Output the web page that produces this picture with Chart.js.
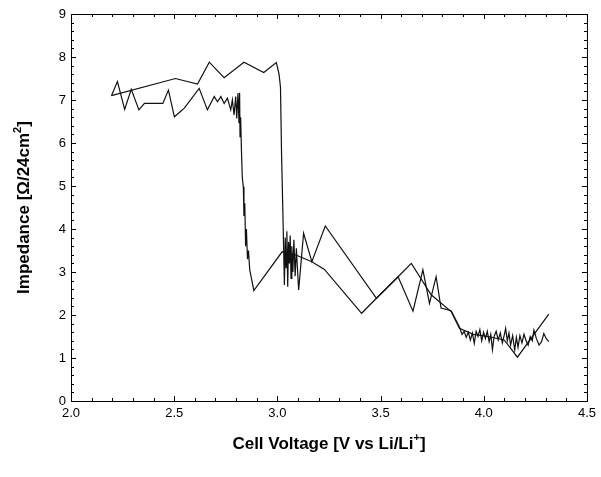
<!DOCTYPE html>
<html>
<head>
<meta charset="utf-8">
<script src="https://cdn.jsdelivr.net/npm/chart.js@4.4.1/dist/chart.umd.min.js"></script>
<style>
  html, body { margin: 0; padding: 0; background: #fff; }
  #wrap { width: 601px; height: 477px; }
</style>
</head>
<body>
<div id="wrap"><canvas id="chart" width="601" height="477"></canvas></div>
<script>
// impedance vs cell voltage, two sweeps
const xTicks = [2.0, 2.5, 3.0, 3.5, 4.0, 4.5];
const yTicks = [0, 1, 2, 3, 4, 5, 6, 7, 8, 9];

// sweep with the noisy plateau
const voltageA = [
  2.196, 2.225, 2.260, 2.292, 2.329, 2.356, 2.445, 2.472, 2.501, 2.549,
  2.621, 2.661, 2.694, 2.710, 2.726, 2.742, 2.758, 2.774, 2.782, 2.790,
  2.798, 2.803, 2.809, 2.814, 2.817, 2.819, 2.822, 2.826, 2.830, 2.835,
  2.838, 2.842, 2.846, 2.850, 2.855, 2.860, 2.866, 2.886, 3.023, 3.087,
  3.167, 3.228, 3.408, 3.480, 3.585, 3.657, 3.705, 3.737, 3.769, 3.793,
  3.842, 3.882, 3.895, 3.905, 3.915, 3.925, 3.935, 3.945, 3.954, 3.963,
  3.972, 3.981, 3.990, 3.999, 4.008, 4.017, 4.026, 4.034, 4.042, 4.050,
  4.060, 4.070, 4.080, 4.090, 4.100, 4.106, 4.114, 4.122, 4.130, 4.140,
  4.150, 4.158, 4.166, 4.175, 4.185, 4.195, 4.205, 4.215, 4.225, 4.235,
  4.243, 4.255, 4.268, 4.280, 4.291, 4.303, 4.315
];
const impedanceA = [
  7.10, 7.43, 6.78, 7.25, 6.77, 6.92, 6.92, 7.23, 6.61, 6.81,
  7.27, 6.77, 7.08, 6.96, 7.08, 6.92, 7.04, 6.77, 7.00, 6.65,
  7.08, 6.57, 7.16, 6.46, 7.17, 6.15, 6.60, 5.80, 5.20, 4.98,
  4.30, 4.60, 3.60, 4.00, 3.30, 3.50, 3.05, 2.57, 3.47, 3.40,
  3.24, 3.06, 2.04, 2.39, 2.89, 2.09, 3.05, 2.27, 2.89, 2.16,
  2.10, 1.72, 1.55, 1.62, 1.48, 1.60, 1.42, 1.58, 1.34, 1.62,
  1.50, 1.66, 1.40, 1.60, 1.45, 1.62, 1.38, 1.55, 1.19, 1.50,
  1.62, 1.42, 1.58, 1.35, 1.55, 1.69, 1.40, 1.58, 1.30, 1.52,
  1.19, 1.48, 1.25, 1.52, 1.35, 1.55, 1.40, 1.30, 1.50, 1.40,
  1.65, 1.45, 1.30, 1.38, 1.57, 1.45, 1.38
];

// sweep with the high plateau
const voltageB = [
  2.196, 2.506, 2.613, 2.670, 2.742, 2.838, 2.934, 2.995, 3.008, 3.015,
  3.020, 3.027, 3.030, 3.034, 3.038, 3.042, 3.046, 3.050, 3.054, 3.058,
  3.062, 3.066, 3.070, 3.075, 3.080, 3.086, 3.092, 3.098, 3.103, 3.127,
  3.167, 3.232, 3.480, 3.585, 3.649, 3.745, 3.842, 3.882, 3.950, 4.020,
  4.099, 4.163, 4.315
];
const impedanceB = [
  7.10, 7.50, 7.37, 7.88, 7.52, 7.88, 7.64, 7.87, 7.60, 7.30,
  5.80, 4.30, 3.60, 2.70, 3.80, 3.10, 3.95, 2.66, 3.70, 3.20,
  3.85, 2.85, 3.60, 3.00, 3.75, 2.90, 3.55, 3.01, 2.58, 3.90,
  3.24, 4.07, 2.39, 2.89, 3.20, 2.47, 2.08, 1.69, 1.55, 1.50,
  1.42, 1.02, 2.02
];

const toPoints = (xs, ys) => xs.map((x, i) => ({ x: x, y: ys[i] }));

// box frame, inward ticks on all four sides, and the axis titles
const framePlugin = {
  id: 'frame',
  afterDraw(chart) {
    const { ctx, chartArea: a, scales } = chart;
    const sx = scales.x, sy = scales.y;
    ctx.save();
    ctx.strokeStyle = '#000';
    ctx.lineWidth = 1;
    ctx.strokeRect(a.left + 0.5, a.top + 0.5, a.right - a.left, a.bottom - a.top);

    ctx.beginPath();
    for (let i = 0; i <= 25; i++) {
      const v = 2 + i * 0.1;
      const px = Math.round(sx.getPixelForValue(v)) + 0.5;
      const len = i % 5 === 0 ? 5 : 3;
      ctx.moveTo(px, a.bottom); ctx.lineTo(px, a.bottom - len);
      ctx.moveTo(px, a.top); ctx.lineTo(px, a.top + len);
    }
    for (let i = 0; i <= 45; i++) {
      const v = i * 0.2;
      const py = Math.round(sy.getPixelForValue(v)) + 0.5;
      const len = i % 5 === 0 ? 5 : 3;
      ctx.moveTo(a.left, py); ctx.lineTo(a.left + len, py);
      ctx.moveTo(a.right, py); ctx.lineTo(a.right - len, py);
    }
    ctx.stroke();

    ctx.fillStyle = '#000';
    ctx.textBaseline = 'alphabetic';
    const big = 'bold 17px "Liberation Sans", Arial, sans-serif';
    const small = 'bold 11px "Liberation Sans", Arial, sans-serif';

    // x title with superscript plus
    const xa = 'Cell Voltage [V vs Li/Li', xs = '+', xb = ']';
    ctx.font = big;
    const wa = ctx.measureText(xa).width, wb = ctx.measureText(xb).width;
    ctx.font = small;
    const ws = ctx.measureText(xs).width;
    let x0 = (a.left + a.right) / 2 - (wa + ws + wb) / 2;
    const yb = 449;
    ctx.font = big; ctx.fillText(xa, x0, yb);
    ctx.font = small; ctx.fillText(xs, x0 + wa, yb - 8);
    ctx.font = big; ctx.fillText(xb, x0 + wa + ws, yb);

    // y title, rotated, with superscript 2
    const ya = 'Impedance [\u03A9/24cm', ys = '2', yb2 = ']';
    ctx.translate(29, (a.top + a.bottom) / 2);
    ctx.rotate(-Math.PI / 2);
    ctx.font = big;
    const ha = ctx.measureText(ya).width, hb = ctx.measureText(yb2).width;
    ctx.font = small;
    const hs = ctx.measureText(ys).width;
    let y0 = -(ha + hs + hb) / 2;
    ctx.font = big; ctx.fillText(ya, y0, 0);
    ctx.font = small; ctx.fillText(ys, y0 + ha, -8);
    ctx.font = big; ctx.fillText(yb2, y0 + ha + hs, 0);
    ctx.restore();
  }
};

const lineStyle = {
  showLine: true,
  pointRadius: 0,
  borderColor: '#111',
  borderWidth: 1.2,
  tension: 0,
  fill: false
};

new Chart(document.getElementById('chart'), {
  type: 'scatter',
  data: {
    datasets: [
      Object.assign({ label: 'A', data: toPoints(voltageA, impedanceA) }, lineStyle),
      Object.assign({ label: 'B', data: toPoints(voltageB, impedanceB) }, lineStyle)
    ]
  },
  options: {
    responsive: false,
    animation: false,
    layout: { padding: { left: 0, right: 11, top: 14, bottom: 0 } },
    plugins: { legend: { display: false }, tooltip: { enabled: false } },
    scales: {
      x: {
        type: 'linear',
        min: 2, max: 4.5,
        grid: { display: false, drawTicks: false },
        border: { display: false },
        afterBuildTicks: s => { s.ticks = xTicks.map(v => ({ value: v })); },
        afterFit: s => { s.height = 76; },
        ticks: {
          padding: 5,
          color: '#000',
          font: { family: '"Liberation Sans", Arial, sans-serif', size: 13 },
          maxRotation: 0,
          callback: v => Number(v).toFixed(1)
        }
      },
      y: {
        type: 'linear',
        min: 0, max: 9,
        grid: { display: false, drawTicks: false },
        border: { display: false },
        afterBuildTicks: s => { s.ticks = yTicks.map(v => ({ value: v })); },
        afterFit: s => { s.width = 71; },
        ticks: {
          padding: 5,
          color: '#000',
          font: { family: '"Liberation Sans", Arial, sans-serif', size: 13 },
          callback: v => String(v)
        }
      }
    }
  },
  plugins: [framePlugin]
});
</script>
</body>
</html>
